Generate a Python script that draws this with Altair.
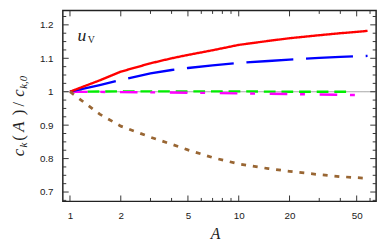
import altair as alt
import pandas as pd

# ---- data ----
A_grid = [1, 1.5, 2, 3, 4, 5, 7, 10, 15, 20, 30, 40, 50, 58]
red_vals = [1.000, 1.034, 1.060, 1.085, 1.100, 1.110, 1.124, 1.140, 1.152, 1.160, 1.169, 1.175, 1.179, 1.182]
blue_vals = [1.000, 1.020, 1.035, 1.055, 1.065, 1.071, 1.079, 1.086, 1.092, 1.096, 1.101, 1.104, 1.106, 1.107]
brown_vals = [1.000, 0.933, 0.897, 0.864, 0.843, 0.826, 0.803, 0.784, 0.770, 0.762, 0.752, 0.746, 0.743, 0.741]
green_A = [1, 2, 5, 10, 20, 44]
green_vals = [1.000, 1.001, 1.001, 1.001, 1.000, 1.000]
magenta_A = [1, 2, 5, 10, 20, 50]
magenta_vals = [1.000, 0.999, 0.997, 0.995, 0.993, 0.990]
ref_A = [0.907, 65.2]
ref_vals = [1.0, 1.0]

x_major = [1, 2, 5, 10, 20, 50]
x_minor = [3, 4, 6, 7, 8, 9, 30, 40, 60]
y_major = [0.7, 0.8, 0.9, 1.0, 1.1, 1.2]
y_minor = [0.675, 0.725, 0.75, 0.775, 0.825, 0.85, 0.875, 0.925, 0.95, 0.975,
           1.025, 1.05, 1.075, 1.125, 1.15, 1.175, 1.225]
x_domain = [0.907, 65.2]
y_domain = [0.672, 1.243]

W, H = 320, 195
xs = alt.Scale(type="log", domain=x_domain, nice=False)
ys = alt.Scale(domain=y_domain, nice=False, zero=False)

SERIF = "Liberation Serif"
SANS = "Liberation Sans"

XAX = alt.Axis(values=x_major, ticks=False, domain=False, grid=False,
               labelFont=SANS, labelFontSize=10, labelColor="#1a1a1a",
               labelPadding=9, title=None, format="~g")
YAX = alt.Axis(values=y_major, ticks=False, domain=False, grid=False,
               labelFont=SANS, labelFontSize=10, labelColor="#1a1a1a",
               labelPadding=10, title=None, format="~g")


def X(f):
    return alt.X(f, scale=xs, axis=XAX)


def Y(f):
    return alt.Y(f, scale=ys, axis=YAX)


def line(a, v, color, dash, width=2.4):
    df = pd.DataFrame({"A": a, "v": v})
    return alt.Chart(df).mark_line(color=color, strokeWidth=width, strokeDash=dash, clip=True).encode(
        x=X("A:Q"), y=Y("v:Q"))


def yticks(vals, length):
    df = pd.DataFrame({"v": vals})
    left = alt.Chart(df).mark_rule(color="#333", strokeWidth=1).encode(
        y=Y("v:Q"), x=alt.value(0), x2=alt.value(length))
    right = alt.Chart(df).mark_rule(color="#333", strokeWidth=1).encode(
        y=Y("v:Q"), x=alt.value(W - length), x2=alt.value(W))
    return left + right


def xticks(vals, length):
    df = pd.DataFrame({"A": vals})
    bottom = alt.Chart(df).mark_rule(color="#333", strokeWidth=1).encode(
        x=X("A:Q"), y=alt.value(H - length), y2=alt.value(H))
    top = alt.Chart(df).mark_rule(color="#333", strokeWidth=1).encode(
        x=X("A:Q"), y=alt.value(0), y2=alt.value(length))
    return bottom + top


def txt(t, x, y, size, style="normal", angle=0, align="left", baseline="alphabetic"):
    kw = dict(text=t, font=SERIF, fontSize=size, fontStyle=style, color="#222",
              align=align, baseline=baseline)
    if angle:
        kw["angle"] = angle
    return alt.Chart(pd.DataFrame({"d": [0]})).mark_text(**kw).encode(x=alt.value(x), y=alt.value(y))


# y title pieces c_k(A)/c_{k,0}, rotated
yt = [
    ("c", 149, -40, 17), ("k", 140, -36.5, 11), ("(", 133, -40, 17), ("A", 124, -40, 17),
    (")", 107, -40, 17), ("/", 98, -40, 17), ("c", 88, -40, 17), ("k,0", 80, -36.5, 11),
]
ytitle = None
for t, y, x, s in yt:
    m = txt(t, x, y, s, style="italic" if t not in "()/" else "normal", angle=270)
    ytitle = m if ytitle is None else ytitle + m

labels = (
    txt("u", 15, 31, 18, style="italic")
    + txt("V", 25.5, 33, 10)
    + txt("A", 156, 228.7, 16, style="italic", align="center", baseline="middle")
)

chart = alt.layer(
    line(ref_A, ref_vals, "#a8a8a8", [1, 0], width=1.2),
    line(green_A, green_vals, "#00ee00", [12, 6]),
    line(magenta_A, magenta_vals, "#ff00ff", [18, 13, 5, 15]),
    line(A_grid, blue_vals, "#0000ff", [48, 13]),
    line(A_grid, red_vals, "#ff0000", [1, 0]),
    line(A_grid, brown_vals, "#996633", [5, 7], width=2.8),
    yticks(y_major, 6), yticks(y_minor, 3.5),
    xticks(x_major, 6), xticks(x_minor, 3.5),
    ytitle, labels,
).properties(
    width=W, height=H,
    autosize=alt.AutoSizeParams(type="none"),
    padding={"left": 56, "top": 0, "right": 6, "bottom": 41},
).configure_view(stroke="#222", strokeWidth=1.5)

chart.save("out.html", embed_options={"renderer": "svg", "actions": False})
